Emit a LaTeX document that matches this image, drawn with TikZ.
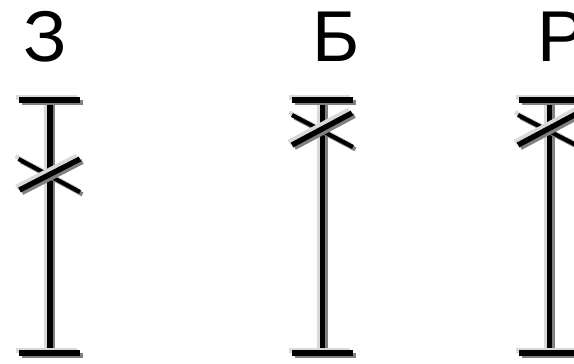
\documentclass[tikz,border=0pt]{standalone}
\usepackage{fontspec}
\setmainfont{Liberation Sans}
\definecolor{lightshade}{gray}{0.85}
\definecolor{darkshade}{gray}{0.5}
\newcommand{\shadowline}[3]{%
  \draw[line width=#3,draw=lightshade] ([shift={(-3,-2.7)}]#1) -- ([shift={(-3,-2.7)}]#2);
  \draw[line width=#3,draw=darkshade] ([shift={(2.5,2.4)}]#1) -- ([shift={(2.5,2.4)}]#2);
  \draw[line width=#3,draw=black] (#1) -- (#2);}
\tikzset{letter/.style={font=\fontsize{72}{72}\selectfont,anchor=base,inner sep=0pt,text=black}}
\begin{document}
\begin{tikzpicture}[x=1pt,y=-1pt]
\useasboundingbox (0,0) rectangle (574,364);
\clip (0,0) rectangle (574,364);
\node[letter] (z) at (45.5,61.5) {З};
\node[letter] (b) at (336,61.5) {Б};
\node[letter,anchor=base west] (r) at (537.5,61.5) {Р};
% first
\shadowline{50,100}{50,353}{5.4pt}
\shadowline{19,100}{80,100}{5.4pt}
\shadowline{19,353}{80,353}{5.4pt}
\shadowline{18.5,159}{80,192}{4.2pt}
\shadowline{19.5,190}{80,159}{5.4pt}
% second
\shadowline{322.5,100}{322.5,353}{5.4pt}
\shadowline{292,100}{353,100}{5.4pt}
\shadowline{292,353}{353,353}{5.4pt}
\shadowline{292,115}{353,147}{4.2pt}
\shadowline{292,145}{352,113}{5.4pt}
% third
\shadowline{549.5,100}{549.5,353}{5.4pt}
\shadowline{519,100}{580,100}{5.4pt}
\shadowline{519,353}{580,353}{5.4pt}
\shadowline{518,115}{580,147}{4.2pt}
\shadowline{518,145}{578,113}{5.4pt}
\end{tikzpicture}
\end{document}
